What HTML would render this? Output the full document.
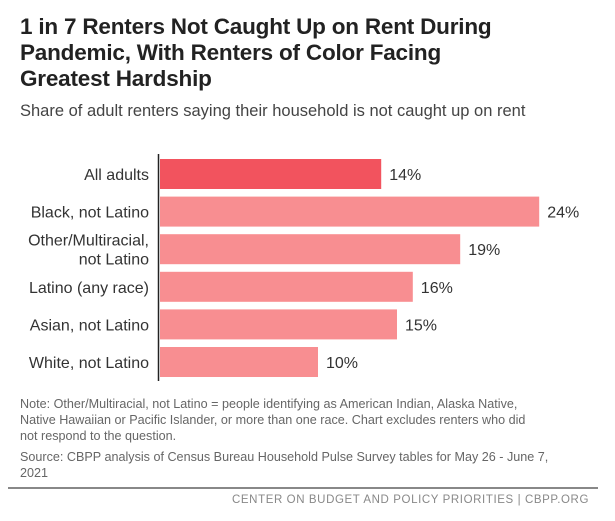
<!DOCTYPE html>
<html><head><meta charset="utf-8"><style>
body{margin:0;background:#fff;width:615px;height:521px;overflow:hidden;font-family:"Liberation Sans",sans-serif;position:relative}
.t{position:absolute;left:20px;top:14px;font-size:22.5px;font-weight:bold;line-height:26px;color:#222;letter-spacing:-0.2px}
.s{position:absolute;left:20px;top:102px;font-size:16.5px;color:#444}
.n{position:absolute;left:20px;top:396px;width:580px;white-space:nowrap;font-size:12.6px;line-height:16px;color:#666}
.f{position:absolute;right:26px;top:494px;font-size:11.5px;color:#888;letter-spacing:0.6px}
.hr{position:absolute;left:8px;width:590px;top:487px;height:2px;background:#888}
</style></head><body>
<div class="t">1 in 7 Renters Not Caught Up on Rent During<br>Pandemic, With Renters of Color Facing<br>Greatest Hardship</div>
<div class="s">Share of adult renters saying their household is not caught up on rent</div>
<svg id="c" width="615" height="521" style="position:absolute;left:0;top:0"></svg>
<div class="n">Note: Other/Multiracial, not Latino = people identifying as American Indian, Alaska Native,<br>Native Hawaiian or Pacific Islander, or more than one race. Chart excludes renters who did<br>not respond to the question.<div style="margin-top:5px">Source: CBPP analysis of Census Bureau Household Pulse Survey tables for May 26 - June 7,<br>2021</div></div>
<div class="hr"></div>
<div class="f">CENTER ON BUDGET AND POLICY PRIORITIES | CBPP.ORG</div>
<script>
const categories=[["All adults"],["Black, not Latino"],["Other/Multiracial,","not Latino"],["Latino (any race)"],["Asian, not Latino"],["White, not Latino"]];
const values=[14,24,19,16,15,10];
const valueLabels=["14%","24%","19%","16%","15%","10%"];
const svg=document.getElementById('c'),NS='http://www.w3.org/2000/svg';
const x=v=>160+v*15.8, y=i=>159+i*37.6, bh=30;
function mk(t,a){const e=document.createElementNS(NS,t);for(const k in a)e.setAttribute(k,a[k]);svg.appendChild(e);return e;}
values.forEach((v,i)=>{
 const r=mk('rect',{x:x(0),y:y(i),width:x(v)-x(0),height:bh,fill:i==0?'#f2535e':'#f88e91'});
 
 
 const t=mk('text',{x:x(v)+8,y:y(i)+bh/2+6,'font-size':16,fill:'#333'});t.textContent=valueLabels[i];
 
 
 const L=categories[i];
 L.forEach((s,j)=>{const c=mk('text',{x:149,y:y(i)+bh/2+6+(j-(L.length-1)/2)*19,'font-size':16,fill:'#333','text-anchor':'end'});c.textContent=s;
 
 });
});
const ax=mk('line',{x1:158.5,x2:158.5,y1:154,y2:381,stroke:'#222','stroke-width':1.5});


</script>
</body></html>
